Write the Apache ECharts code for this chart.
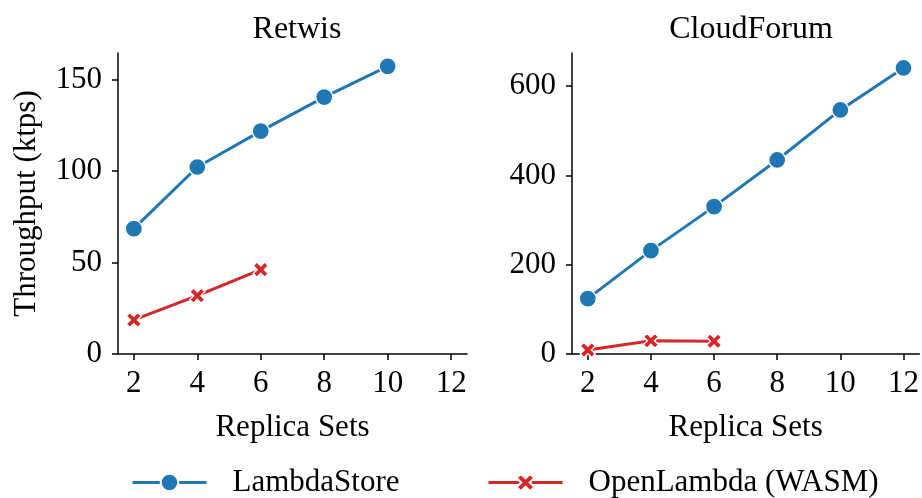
<!DOCTYPE html>
<html>
<head>
<meta charset="utf-8">
<script src="https://cdn.jsdelivr.net/npm/echarts@6/dist/echarts.min.js"></script>
<style>
  html, body { margin: 0; padding: 0; background: #fff; }
  #chart { width: 922px; height: 498px; }
</style>
</head>
<body>
<div id="chart"></div>
<script>
// Replica set counts on the x axis
const replicaSets = [2, 4, 6, 8, 10, 12];
const xTicks = [2, 4, 6, 8, 10, 12];

// Retwis throughput (ktps)
const retwisLambdaStore = [[2, 68.5], [4, 102.2], [6, 121.8], [8, 140.4], [10, 157.2]];
const retwisOpenLambda = [[2, 18.6], [4, 31.9], [6, 46.1]];
const retwisTicks = [0, 50, 100, 150];

// CloudForum throughput (ktps)
const forumLambdaStore = [[2, 124], [4, 231.5], [6, 330], [8, 434.5], [10, 546.5], [12, 640.5]];
const forumOpenLambda = [[2, 9], [4, 29.8], [6, 28.6]];
const forumTicks = [0, 200, 400, 600];

const panelTitles = ['Retwis', 'CloudForum'];
const seriesNames = ['LambdaStore', 'OpenLambda (WASM)'];

const FONT = 'Liberation Serif';
const FS = 31;
const BLUE = '#1f77b4';
const RED = '#d62728';
// thick "x" marker
const crossPath = 'path://M-2.4,-4.6 L0,-2.2 L2.4,-4.6 L4.6,-2.4 L2.2,0 L4.6,2.4 L2.4,4.6 L0,2.2 L-2.4,4.6 L-4.6,2.4 L-2.2,0 L-4.6,-2.4 Z';

const chart = echarts.init(document.getElementById('chart'), null, { renderer: 'canvas' });

const axisCommon = {
  axisLine: { show: true, lineStyle: { color: '#000', width: 1.5 } },
  axisTick: { show: true, length: 6, lineStyle: { color: '#000', width: 1.5 } },
  splitLine: { show: false },
  axisLabel: { color: '#000', fontFamily: FONT, fontSize: FS }
};

function xAxis(gridIndex) {
  return Object.assign({}, axisCommon, {
    type: 'value', gridIndex, min: 1.5, max: 12.5,
    name: 'Replica Sets', nameLocation: 'middle', nameGap: 58,
    nameTextStyle: { color: '#000', fontFamily: FONT, fontSize: FS },
    axisTick: Object.assign({}, axisCommon.axisTick, { customValues: xTicks }),
    axisLabel: Object.assign({}, axisCommon.axisLabel, { customValues: xTicks, margin: 14 })
  });
}

function yAxis(gridIndex, max, ticks, name) {
  return Object.assign({}, axisCommon, {
    type: 'value', gridIndex, min: 0, max,
    name, nameLocation: 'middle', nameGap: 76,
    nameTextStyle: { color: '#000', fontFamily: FONT, fontSize: FS },
    axisTick: Object.assign({}, axisCommon.axisTick, { customValues: ticks }),
    axisLabel: Object.assign({}, axisCommon.axisLabel, { customValues: ticks, margin: 16 })
  });
}

function lineSeries(name, data, idx, color, symbol, size) {
  return {
    name, type: 'line', data, xAxisIndex: idx, yAxisIndex: idx,
    symbol, symbolSize: size,
    lineStyle: { color, width: 3 },
    itemStyle: { color, borderColor: '#fff', borderWidth: 1.3 },
    emphasis: { disabled: true }, animation: false, z: 3
  };
}

const legendBase = {
  top: 462, itemWidth: 74, itemHeight: 22, itemGap: 0,
  lineStyle: { width: 3 },
  textStyle: { fontFamily: FONT, fontSize: FS, color: '#000' }
};

chart.setOption({
  backgroundColor: '#fff',
  animation: false,
  title: [
    { text: panelTitles[0], left: 292, top: 9, textAlign: 'center',
      textStyle: { fontFamily: FONT, fontSize: 32, fontWeight: 'normal', color: '#000' } },
    { text: panelTitles[1], left: 746, top: 9, textAlign: 'center',
      textStyle: { fontFamily: FONT, fontSize: 32, fontWeight: 'normal', color: '#000' } }
  ],
  grid: [
    { left: 118, top: 53, width: 349, height: 301 },
    { left: 572, top: 53, width: 349, height: 301 }
  ],
  xAxis: [xAxis(0), xAxis(1)],
  yAxis: [
    yAxis(0, 164.5, retwisTicks, 'Throughput (ktps)'),
    yAxis(1, 674, forumTicks, '')
  ],
  legend: [
    Object.assign({}, legendBase, { data: [seriesNames[0]], left: 126,
      textStyle: Object.assign({}, legendBase.textStyle, { padding: [0, 0, 0, 21] }) }),
    Object.assign({}, legendBase, { data: [seriesNames[1]], left: 482,
      textStyle: Object.assign({}, legendBase.textStyle, { padding: [0, 0, 0, 21] }) })
  ],
  series: [
    lineSeries(seriesNames[0], retwisLambdaStore, 0, BLUE, 'circle', 17),
    lineSeries(seriesNames[1], retwisOpenLambda, 0, RED, crossPath, 15),
    lineSeries(seriesNames[0], forumLambdaStore, 1, BLUE, 'circle', 17),
    lineSeries(seriesNames[1], forumOpenLambda, 1, RED, crossPath, 15)
  ]
});
</script>
</body>
</html>
